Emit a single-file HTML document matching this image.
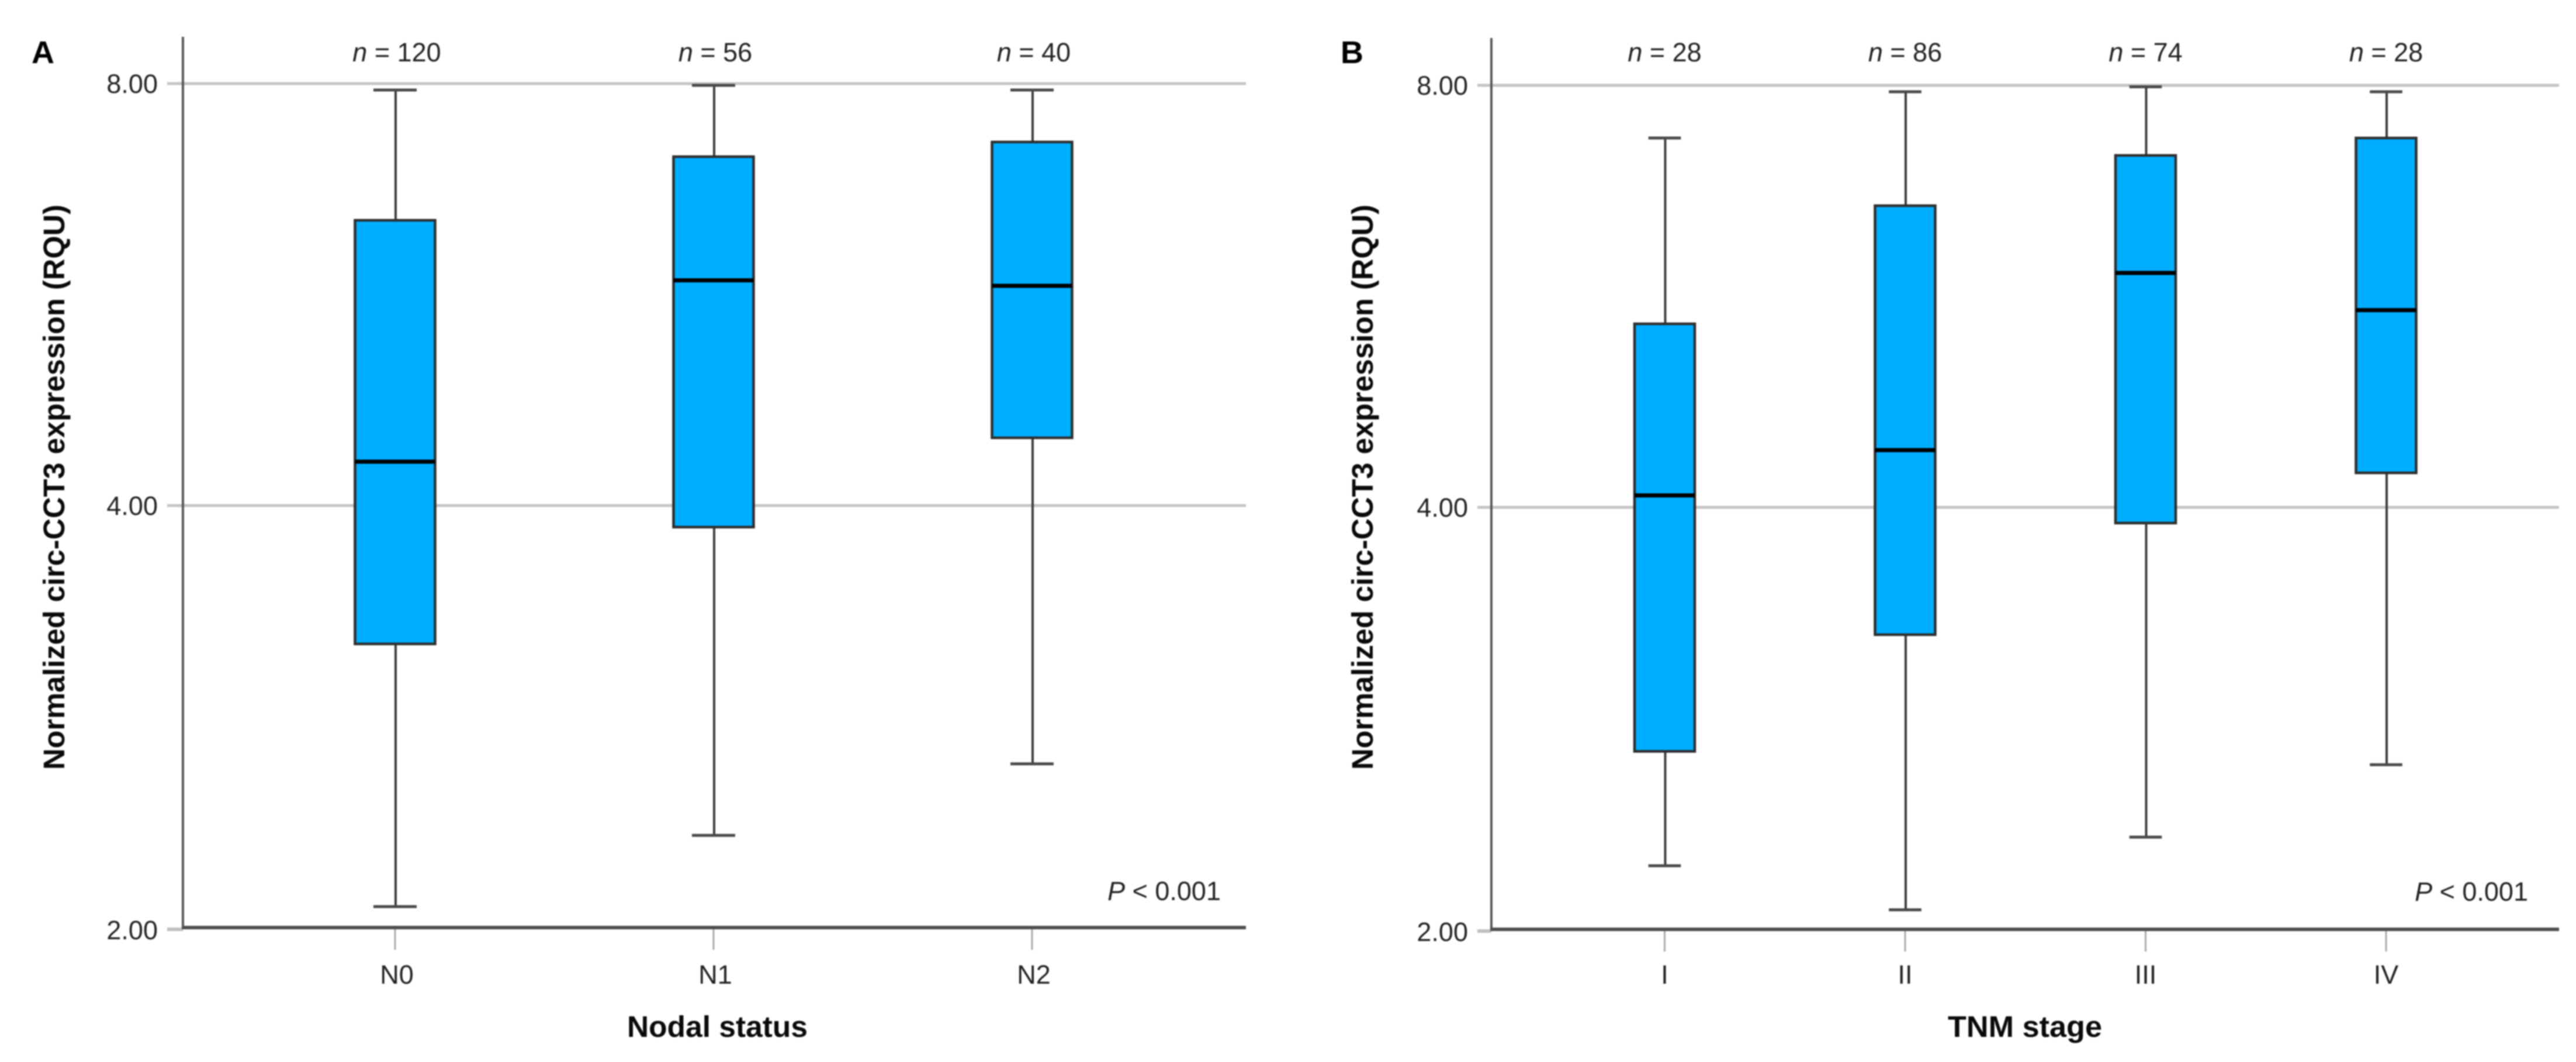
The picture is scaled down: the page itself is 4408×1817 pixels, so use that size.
<!DOCTYPE html>
<html lang="en">
<head>
<meta charset="utf-8">
<title>Normalized circ-CCT3 expression by nodal status and TNM stage</title>
<style>
html,body{margin:0;padding:0;background:#fff;width:4408px;height:1817px;overflow:hidden}
svg{display:block;font-family:"Liberation Sans",sans-serif;filter:blur(1px)}
.tick{font-size:45px;fill:#222}
.title{font-size:51px;font-weight:bold;fill:#0a0a0a}
.letter{font-size:54px;font-weight:bold;fill:#000}
</style>
</head>
<body>
<svg id="figure" xmlns="http://www.w3.org/2000/svg" width="4408" height="1817" viewBox="0 0 4408 1817">
  <text class="letter" x="54" y="108">A</text>
  <text class="letter" x="2294" y="108">B</text>
  <text class="title" transform="translate(110 1317) rotate(-90)" textLength="967" lengthAdjust="spacingAndGlyphs">Normalized circ-CCT3 expression (RQU)</text>
  <text class="title" transform="translate(2349 1317) rotate(-90)" textLength="967" lengthAdjust="spacingAndGlyphs">Normalized circ-CCT3 expression (RQU)</text>
  <text class="title" x="1073" y="1774" textLength="309" lengthAdjust="spacingAndGlyphs">Nodal status</text>
  <text class="title" x="3333" y="1774" textLength="264" lengthAdjust="spacingAndGlyphs">TNM stage</text>
  <text class="tick" x="2089" y="1540" text-anchor="end" font-size="44"><tspan font-style="italic">P</tspan> &lt; 0.001</text>
  <text class="tick" x="4326" y="1541" text-anchor="end" font-size="44"><tspan font-style="italic">P</tspan> &lt; 0.001</text>
  <g id="panel-a"></g>
  <g id="panel-b"></g>
</svg>
<script>
// Shared axis values
const yTickValues = [8, 4, 2];
const yTickLabels = ['8.00', '4.00', '2.00'];

// Panel A: nodal status
const categoriesA = ['N0', 'N1', 'N2'];
const countsA = [120, 56, 40];
const whiskerHighA = [7.916, 7.977, 7.916];
const q3A = [6.391, 7.095, 7.268];
const medianA = [4.299, 5.791, 5.739];
const q1A = [3.187, 3.861, 4.471];
const whiskerLowA = [2.070, 2.327, 2.617];

// Panel B: TNM stage
const categoriesB = ['I', 'II', 'III', 'IV'];
const countsB = [28, 86, 74, 28];
const whiskerHighB = [7.337, 7.916, 7.981, 7.916];
const q3B = [5.407, 6.565, 7.130, 7.337];
const medianB = [4.079, 4.394, 5.878, 5.530];
const q1B = [2.679, 3.245, 3.898, 4.233];
const whiskerLowB = [2.220, 2.065, 2.327, 2.621];

const NS = 'http://www.w3.org/2000/svg';

function make(parent, tag, attrs, text) {
  const el = document.createElementNS(NS, tag);
  for (const k in attrs) el.setAttribute(k, attrs[k]);
  if (text !== undefined) el.textContent = text;
  parent.appendChild(el);
  return el;
}

function drawPanel(root, cfg, categories, counts, hi, q3, med, q1, lo) {
  const yScale = v => cfg.y8 + (3 - Math.log2(v)) * cfg.octave;
  const xScale = i => cfg.x0 + i * cfg.step;
  const boxW = cfg.boxW;
  const capHalf = boxW * 0.27;

  yTickValues.forEach((v, i) => {
    const y = yScale(v);
    if (v !== 2) {
      const grid = make(root, 'line', {x1: cfg.tickL, x2: cfg.right, y1: y, y2: y, stroke: '#c4c4c4', 'stroke-width': 5});
      
      
    } else {
      const tick = make(root, 'line', {x1: cfg.tickL, x2: cfg.axisX, y1: y + 3, y2: y + 3, stroke: '#bfbfbf', 'stroke-width': 6});
      
      
    }
    const label = make(root, 'text', {class: 'tick', x: cfg.tickL - 16, y: y + 16 + (v === 2 ? 4 : 0), 'text-anchor': 'end'}, yTickLabels[i]);
    
    
  });

  const yAxis = make(root, 'line', {x1: cfg.axisX, x2: cfg.axisX, y1: cfg.top, y2: yScale(2) + 2, stroke: '#555', 'stroke-width': 4});
  
  

  categories.forEach((cat, i) => {
    const x = xScale(i);

    const tick = make(root, 'line', {x1: x, x2: x, y1: yScale(2), y2: yScale(2) + 38, stroke: '#a8a8a8', 'stroke-width': 3});
    
    

    const tl = make(root, 'text', {class: 'tick', x: x + cfg.labelShift, y: 1683, 'text-anchor': 'middle'}, cat);
    
    

    const nLabel = make(root, 'text', {class: 'tick', x: x + cfg.labelShift, y: 105, 'text-anchor': 'middle'});
    
    
    make(nLabel, 'tspan', {'font-style': 'italic'}, 'n');
    make(nLabel, 'tspan', {}, ' = ' + counts[i]);

    const whisker = make(root, 'line', {x1: x + 1, x2: x + 1, y1: yScale(hi[i]), y2: yScale(lo[i]), stroke: '#3c3c3c', 'stroke-width': 4});
    
    

    const capHi = make(root, 'line', {x1: x - capHalf, x2: x + capHalf, y1: yScale(hi[i]), y2: yScale(hi[i]), stroke: '#4a4a4a', 'stroke-width': 5});
    
    

    const capLo = make(root, 'line', {x1: x - capHalf, x2: x + capHalf, y1: yScale(lo[i]), y2: yScale(lo[i]), stroke: '#4a4a4a', 'stroke-width': 5});
    
    

    const box = make(root, 'rect', {x: x - boxW / 2, y: yScale(q3[i]), width: boxW, height: yScale(q1[i]) - yScale(q3[i]), fill: '#00aeff', stroke: '#2e2e2e', 'stroke-width': 4.5});
    
    

    const medianLine = make(root, 'line', {x1: x - boxW / 2, x2: x + boxW / 2, y1: yScale(med[i]), y2: yScale(med[i]), stroke: '#000', 'stroke-width': 7});
    
    
  });

  const xAxis = make(root, 'line', {x1: cfg.axisX - 2, x2: cfg.right, y1: yScale(2), y2: yScale(2), stroke: '#4f4f4f', 'stroke-width': 6});
  
  
}

drawPanel(document.getElementById('panel-a'),
  {axisX: 313, tickL: 286, right: 2132, top: 63, y8: 143, octave: 722, x0: 676, step: 545, boxW: 137, labelShift: 3},
  categoriesA, countsA, whiskerHighA, q3A, medianA, q1A, whiskerLowA);

drawPanel(document.getElementById('panel-b'),
  {axisX: 2552, tickL: 2528, right: 4379, top: 65, y8: 146, octave: 722, x0: 2848.5, step: 411.5, boxW: 103, labelShift: 0},
  categoriesB, countsB, whiskerHighB, q3B, medianB, q1B, whiskerLowB);
</script>
</body>
</html>
